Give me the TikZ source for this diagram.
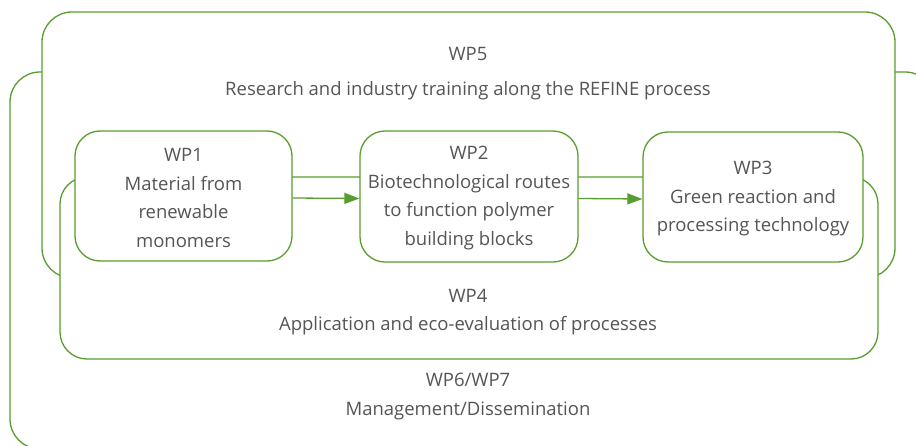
\documentclass[tikz,border=0pt]{standalone}
\usepackage{fontspec}
\setmainfont{Open Sans}
\usetikzlibrary{arrows.meta, positioning}
\definecolor{wpgreen}{RGB}{88,158,46}
\definecolor{wpgray}{RGB}{85,85,85}

\begin{document}
\begin{tikzpicture}[x=1pt, y=-1pt,
    wpbox/.style={draw=wpgreen, line width=1.3pt, fill=white, inner sep=0pt},
    wptext/.style={text=wpgray, align=center, font=\fontsize{18.5}{28.5}\selectfont},
    flow/.style={draw=wpgreen, line width=1.3pt, -{Triangle[length=15pt, width=11pt]}}]
    \useasboundingbox (0,0) rectangle (916,446);
    \clip (0,0) rectangle (916,446);

    % Outer frame: management
    \node[wpbox, rounded corners=30pt, minimum width=925pt, minimum height=377pt] (wp67) at (472.5,260.5) {};
    % Training frame
    \node[wpbox, rounded corners=30pt, minimum width=853pt, minimum height=266pt] (wp5) at (468.5,145) {};
    % Application frame
    \node[wpbox, rounded corners=27pt, minimum width=818pt, minimum height=182pt] (wp4) at (469,268) {};

    % Work packages
    \node[wpbox, rounded corners=25pt, minimum width=217pt, minimum height=130pt] (wp1) at (183.5,196) {};
    \node[wpbox, rounded corners=25pt, minimum width=218pt, minimum height=131pt] (wp2) at (469,196.5) {};
    \node[wpbox, rounded corners=25pt, minimum width=220pt, minimum height=130pt] (wp3) at (753,197) {};

    % Texts
    \node[wptext] (wp5text) at (468,73.5) {WP5\\[6pt]Research and industry training along the REFINE process};
    \node[wptext] (wp4text) at (468,312) {WP4\\Application and eco-evaluation of processes};
    \node[wptext] (wp67text) at (468,396.5) {WP6/WP7\\Management/Dissemination};
    \node[wptext] (wp1text) at (183.5,198) {WP1\\Material from\\renewable\\monomers};
    \node[wptext] (wp2text) at (469,198) {WP2\\Biotechnological routes\\to function polymer\\building blocks};
    \node[wptext] (wp3text) at (753,199) {WP3\\Green reaction and\\processing technology};

    % Flow between packages
    \draw[flow] ([yshift=-2pt]wp1.east) -- ([yshift=-2pt]wp2.west);
    \draw[flow] ([yshift=-2pt]wp2.east) -- ([yshift=-2pt]wp3.west);
\end{tikzpicture}
\end{document}
